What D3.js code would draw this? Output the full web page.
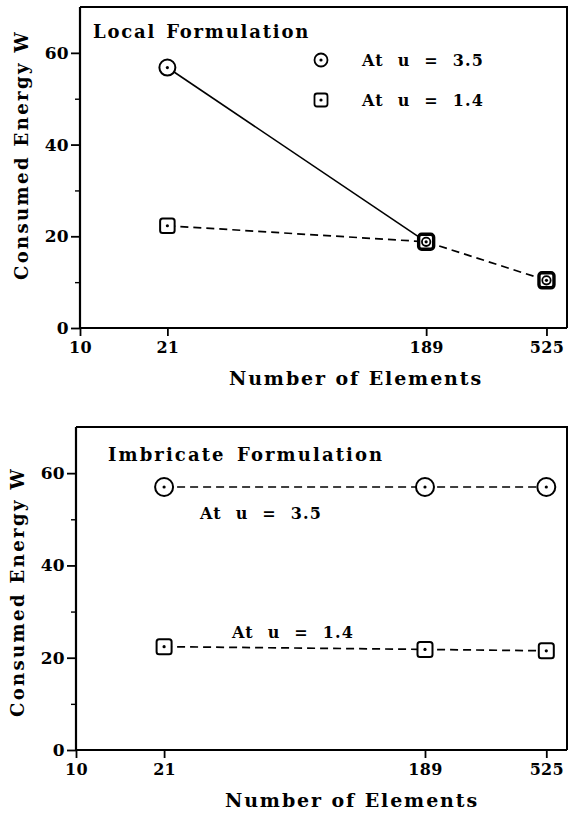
<!DOCTYPE html>
<html>
<head>
<meta charset="utf-8">
<script src="https://cdn.jsdelivr.net/npm/d3@7"></script>
<style>
  html, body { margin: 0; padding: 0; background: #fff; }
  svg text { font-family: "DejaVu Serif", serif; font-weight: bold; fill: #000; white-space: pre; }
</style>
</head>
<body>
<svg id="chart" width="569" height="814"></svg>
<script>
// ---- data ----
const elements = [21, 189, 525];
const xTickValues = [10, 21, 189, 525];
const yTickValues = [0, 20, 40, 60];
const yMinorTicks = [10, 30, 50];

// Local formulation
const localU35 = [56.8, 18.8, 10.4];
const localU14 = [22.3, 18.8, 10.4];
// Imbricate formulation
const imbU35 = [57, 57, 57];
const imbU14 = [22.4, 21.8, 21.5];

const labelU35 = "At u = 3.5";
const labelU14 = "At u = 1.4";
const yTitle = "Consumed Energy W";
const xTitle = "Number of Elements";

const svg = d3.select("#chart");

function styleText(sel, size, ls, ws) {
  sel.style("font-family", "DejaVu Serif").style("font-weight", "bold")
     .style("font-size", size + "px").style("letter-spacing", ls + "px")
     .style("word-spacing", (ws || 0) + "px");
}

function panel(cfg) {
  const g = svg.append("g");
  const x = d3.scaleLog().domain([10, 625]).range([cfg.left, cfg.right]);
  const y = d3.scaleLinear().domain([0, 70]).range([cfg.bottom, cfg.top]);

  // frame top & right
  g.append("path")
    .attr("d", `M${cfg.left},${cfg.top}H${cfg.right}V${cfg.bottom}`)
    .attr("fill", "none").attr("stroke", "#000").attr("stroke-width", 2);

  // y axis
  const ya = g.append("g").attr("transform", `translate(${cfg.left},0)`)
    .call(d3.axisLeft(y).tickValues(yTickValues).tickSize(9).tickPadding(2).tickFormat(d3.format("d")));
  ya.select(".domain").attr("stroke-width", 2.2).attr("d", `M0,${cfg.top}V${cfg.bottom}`);
  ya.selectAll(".tick line").attr("stroke-width", 1.8);
  ya.selectAll(".tick text").call(styleText, 17, 0.3);
  g.append("g").attr("transform", `translate(${cfg.left},0)`)
    .call(d3.axisLeft(y).tickValues(yMinorTicks).tickSize(5).tickFormat(""))
    .call(s => s.select(".domain").remove())
    .selectAll(".tick line").attr("stroke-width", 1.4);

  // x axis
  const xa = g.append("g").attr("transform", `translate(0,${cfg.bottom})`)
    .call(d3.axisBottom(x).tickValues(xTickValues).tickSize(8).tickPadding(6).tickFormat(d3.format("d")));
  xa.select(".domain").attr("stroke-width", 2.2).attr("d", `M${cfg.left},0H${cfg.right}`);
  xa.selectAll(".tick line").attr("stroke-width", 1.8);
  xa.selectAll(".tick text").call(styleText, 16, 0.3);

  // titles
  g.append("text").attr("x", cfg.xtx).attr("y", cfg.bottom + 57)
    .attr("text-anchor", "middle").call(styleText, 19, 1.9, 0).text(xTitle);
  g.append("text").attr("transform", `translate(${cfg.ytx},${cfg.yty}) rotate(-90)`)
    .attr("text-anchor", "middle").call(styleText, 18, 2.4, 0).text(yTitle);

  return { g, x, y };
}

const line = (x, y) => d3.line().x((d, i) => x(elements[i])).y(d => y(d));

function circleMark(g, cx, cy, r, sw) {
  g.append("circle").attr("cx", cx).attr("cy", cy).attr("r", r)
    .attr("fill", "#fff").attr("stroke", "#000").attr("stroke-width", sw);
  g.append("circle").attr("cx", cx).attr("cy", cy).attr("r", 1.6).attr("fill", "#000");
}
function squareMark(g, cx, cy, s, sw) {
  g.append("rect").attr("x", cx - s / 2).attr("y", cy - s / 2).attr("width", s).attr("height", s)
    .attr("rx", 2.5).attr("fill", "#fff").attr("stroke", "#000").attr("stroke-width", sw);
  g.append("circle").attr("cx", cx).attr("cy", cy).attr("r", 1.6).attr("fill", "#000");
}

// ---------- top panel: Local Formulation ----------
{
  const { g, x, y } = panel({ left: 80, right: 567, top: 7, bottom: 328, ytx: 28, yty: 155, xtx: 356 });
  // u=1.4 dashed
  g.append("path").datum(localU14).attr("d", line(x, y))
    .attr("fill", "none").attr("stroke", "#000").attr("stroke-width", 1.7).attr("stroke-dasharray", "8,5");
  // u=3.5 solid (21 -> 189)
  g.append("path").datum(localU35.slice(0, 2)).attr("d", line(x, y))
    .attr("fill", "none").attr("stroke", "#000").attr("stroke-width", 1.6);

  circleMark(g, x(elements[0]), y(localU35[0]), 8, 2);
  squareMark(g, x(elements[0]), y(localU14[0]), 14.5, 2);
  for (let i = 1; i < 3; i++) {
    const cx = x(elements[i]), cy = y(localU14[i]);
    g.append("rect").attr("x", cx - 7.5).attr("y", cy - 7.5).attr("width", 15).attr("height", 15)
      .attr("rx", 3).attr("fill", "#fff").attr("stroke", "#000").attr("stroke-width", 3.4);
    circleMark(g, cx, y(localU35[i]), 4.2, 1.8);
  }

  g.append("text").attr("x", 93).attr("y", 38).call(styleText, 18, 1.8, 2).text("Local Formulation");
  // legend
  circleMark(g, 321, 60, 6.5, 1.8);
  squareMark(g, 321, 100, 13, 1.8);
  g.append("text").attr("x", 362).attr("y", 66).call(styleText, 16, 1.2, 7).text(labelU35);
  g.append("text").attr("x", 362).attr("y", 106).call(styleText, 16, 1.2, 7).text(labelU14);
}

// ---------- bottom panel: Imbricate Formulation ----------
{
  const { g, x, y } = panel({ left: 76, right: 567, top: 427, bottom: 750, ytx: 24, yty: 592, xtx: 352 });
  g.append("path").datum(imbU35).attr("d", line(x, y))
    .attr("fill", "none").attr("stroke", "#000").attr("stroke-width", 1.7).attr("stroke-dasharray", "8,5");
  g.append("path").datum(imbU14).attr("d", line(x, y))
    .attr("fill", "none").attr("stroke", "#000").attr("stroke-width", 1.7).attr("stroke-dasharray", "8,5");
  imbU35.forEach((v, i) => circleMark(g, x(elements[i]), y(v), 9, 2));
  imbU14.forEach((v, i) => squareMark(g, x(elements[i]), y(v), 15, 2));

  g.append("text").attr("x", 108).attr("y", 461).call(styleText, 18, 2.1, 3).text("Imbricate Formulation");
  g.append("text").attr("x", 200).attr("y", 519).call(styleText, 16, 1.2, 7).text(labelU35);
  g.append("text").attr("x", 232).attr("y", 638).call(styleText, 16, 1.2, 7).text(labelU14);
}
</script>
</body>
</html>
